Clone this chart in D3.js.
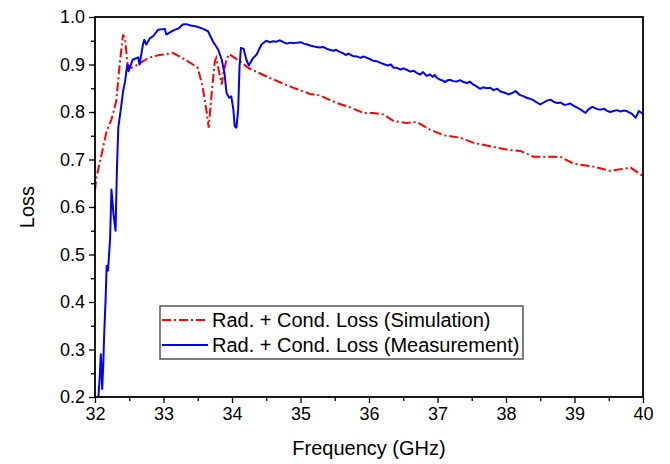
<!DOCTYPE html>
<html>
<head>
<meta charset="utf-8">
<script src="https://cdn.jsdelivr.net/npm/d3@7"></script>
<style>
  body { margin: 0; background: #fff; }
  svg { display: block; font-family: "Liberation Sans", Arial, sans-serif; }
</style>
</head>
<body>
<svg id="chart" width="670" height="464"></svg>
<script>
// simulation curve (dash-dot red)
const simFreq = [32.00, 32.02, 32.095, 32.17, 32.24, 32.31, 32.36, 32.41, 32.44, 32.475, 32.53, 32.63, 32.78, 32.94,
  33.14, 33.26, 33.43, 33.50, 33.57, 33.63, 33.66, 33.685, 33.71, 33.75, 33.77, 33.81, 33.85, 33.88, 33.92, 33.96,
  34.11, 34.26, 34.55, 34.84, 35.14, 35.28, 35.53, 35.72, 35.92, 36.06, 36.21, 36.36, 36.55, 36.70, 36.89, 37.09,
  37.33, 37.53, 37.77, 38.01, 38.21, 38.40, 38.65, 38.79, 38.99, 39.28, 39.52, 39.82, 40.00];
const simLoss = [0.635, 0.662, 0.71, 0.76, 0.784, 0.823, 0.90, 0.963, 0.952, 0.90, 0.893, 0.90, 0.914, 0.92,
  0.924, 0.915, 0.90, 0.893, 0.854, 0.80, 0.767, 0.809, 0.851, 0.907, 0.914, 0.886, 0.858, 0.886, 0.91, 0.922,
  0.907, 0.891, 0.872, 0.854, 0.838, 0.835, 0.819, 0.81, 0.798, 0.798, 0.795, 0.781, 0.777, 0.779, 0.763, 0.751,
  0.746, 0.735, 0.728, 0.721, 0.718, 0.706, 0.706, 0.706, 0.691, 0.685, 0.676, 0.683, 0.665];

// measurement curve (solid blue)
const measFreq = [32.05, 32.07, 32.085, 32.105, 32.12, 32.135, 32.155, 32.17, 32.19, 32.22, 32.24, 32.27, 32.30, 32.32,
  32.34, 32.38, 32.41, 32.44, 32.46, 32.475, 32.49, 32.55, 32.63, 32.65, 32.70, 32.72, 32.75, 32.80, 32.85, 32.92,
  33.02, 33.04, 33.10, 33.16, 33.22, 33.28, 33.33, 33.40, 33.48, 33.58, 33.65, 33.72, 33.80, 33.85, 33.89, 33.92,
  33.96, 33.99, 34.02, 34.04, 34.065, 34.09, 34.11, 34.13, 34.17, 34.21, 34.245, 34.31, 34.36, 34.43, 34.50,
  34.55, 34.60, 34.65, 34.70, 34.75, 34.80, 34.85, 34.90, 34.95, 35.00, 35.05, 35.10, 35.14, 35.20, 35.28, 35.33,
  35.40, 35.48, 35.52, 35.58, 35.62, 35.66, 35.70, 35.76, 35.82, 35.88, 35.92, 35.97, 36.02, 36.06, 36.11, 36.16,
  36.23, 36.28, 36.32, 36.36, 36.41, 36.46, 36.50, 36.55, 36.60, 36.65, 36.70, 36.75, 36.79, 36.84, 36.89, 36.93,
  36.96, 36.99, 37.04, 37.08, 37.11, 37.15, 37.18, 37.23, 37.28, 37.33, 37.38, 37.43, 37.47, 37.52, 37.57, 37.62,
  37.67, 37.72, 37.77, 37.82, 37.87, 37.92, 37.97, 38.04, 38.09, 38.14, 38.20, 38.26, 38.30, 38.35, 38.40, 38.45,
  38.50, 38.55, 38.60, 38.65, 38.70, 38.75, 38.80, 38.85, 38.89, 38.94, 38.99, 39.04, 39.08, 39.12, 39.16, 39.20,
  39.26, 39.30, 39.34, 39.38, 39.43, 39.47, 39.52, 39.57, 39.62, 39.67, 39.72, 39.76, 39.80, 39.84, 39.89, 39.92,
  39.94, 39.97, 40.00];
const measLoss = [0.20, 0.245, 0.29, 0.217, 0.266, 0.336, 0.406, 0.476, 0.466, 0.532, 0.637, 0.585, 0.55, 0.68,
  0.767, 0.809, 0.844, 0.865, 0.889, 0.90, 0.886, 0.91, 0.915, 0.90, 0.942, 0.952, 0.942, 0.955, 0.96, 0.973,
  0.975, 0.963, 0.968, 0.973, 0.976, 0.984, 0.985, 0.982, 0.980, 0.975, 0.97, 0.949, 0.931, 0.91, 0.882, 0.84,
  0.83, 0.833, 0.805, 0.77, 0.767, 0.805, 0.896, 0.935, 0.933, 0.91, 0.898, 0.914, 0.921, 0.942, 0.95,
  0.947, 0.949, 0.948, 0.951, 0.947, 0.944, 0.946, 0.945, 0.946, 0.947, 0.944, 0.942, 0.94, 0.938, 0.936, 0.937,
  0.932, 0.929, 0.931, 0.926, 0.924, 0.92, 0.923, 0.918, 0.917, 0.914, 0.917, 0.914, 0.911, 0.908, 0.907, 0.904,
  0.90, 0.898, 0.90, 0.893, 0.893, 0.889, 0.892, 0.889, 0.885, 0.887, 0.882, 0.879, 0.884, 0.876, 0.879, 0.874,
  0.878, 0.872, 0.868, 0.866, 0.863, 0.867, 0.868, 0.865, 0.864, 0.867, 0.863, 0.861, 0.864, 0.858, 0.854, 0.849,
  0.852, 0.85, 0.851, 0.846, 0.849, 0.843, 0.841, 0.837, 0.84, 0.844, 0.836, 0.833, 0.83, 0.828, 0.825, 0.82,
  0.816, 0.82, 0.824, 0.826, 0.821, 0.819, 0.82, 0.815, 0.816, 0.818, 0.813, 0.809, 0.806, 0.802, 0.798, 0.805,
  0.811, 0.808, 0.806, 0.805, 0.807, 0.803, 0.80, 0.802, 0.804, 0.801, 0.803, 0.802, 0.799, 0.796, 0.788, 0.796,
  0.802, 0.799, 0.796];

const xTicks = [32, 33, 34, 35, 36, 37, 38, 39, 40];
const yTicks = [0.2, 0.3, 0.4, 0.5, 0.6, 0.7, 0.8, 0.9, 1.0];
const legendLabels = ["Rad. + Cond. Loss (Simulation)", "Rad. + Cond. Loss (Measurement)"];

const width = 670;
const height = 464;
const margin = { top: 17, right: 27, bottom: 67, left: 95 };

const svg = d3.select("#chart");

const x = d3.scaleLinear()
    .domain([32, 40])
    .range([margin.left, width - margin.right]);

const y = d3.scaleLinear()
    .domain([0.2, 1.0])
    .range([height - margin.bottom, margin.top]);

svg.append("defs").append("clipPath").attr("id", "plot")
    .append("rect")
    .attr("x", margin.left).attr("y", margin.top)
    .attr("width", width - margin.left - margin.right)
    .attr("height", height - margin.top - margin.bottom);

// minor ticks
const xMinor = d3.range(32.5, 40, 1);
const yMinor = d3.range(0.25, 1.0, 0.1);

svg.append("g")
    .attr("transform", `translate(0,${height - margin.bottom})`)
    .call(d3.axisBottom(x).tickValues(xMinor).tickSize(4).tickFormat(""))
    .call(g => g.select(".domain").remove())
    .selectAll("line").attr("stroke-width", 1.3);

svg.append("g")
    .attr("transform", `translate(${margin.left},0)`)
    .call(d3.axisLeft(y).tickValues(yMinor).tickSize(4).tickFormat(""))
    .call(g => g.select(".domain").remove())
    .selectAll("line").attr("stroke-width", 1.3);

// curves
const simLine = d3.line().x((d, i) => x(simFreq[i])).y(d => y(d));
const measLine = d3.line().x((d, i) => x(measFreq[i])).y(d => y(d));

svg.append("path")
    .attr("clip-path", "url(#plot)")
    .attr("d", simLine(simLoss))
    .attr("fill", "none")
    .attr("stroke", "#ff0000")
    .attr("stroke-width", 2)
    .attr("stroke-dasharray", "9,3,2,3");

svg.append("path")
    .attr("clip-path", "url(#plot)")
    .attr("d", measLine(measLoss))
    .attr("fill", "none")
    .attr("stroke", "#0000ff")
    .attr("stroke-width", 2)
    .attr("stroke-linejoin", "round");

// major axes
const xAxis = svg.append("g")
    .attr("transform", `translate(0,${height - margin.bottom})`)
    .call(d3.axisBottom(x).tickValues(xTicks).tickSize(6).tickPadding(4).tickFormat(d3.format("d")));

const yAxis = svg.append("g")
    .attr("transform", `translate(${margin.left},0)`)
    .call(d3.axisLeft(y).tickValues(yTicks).tickSize(6).tickPadding(4).tickFormat(d3.format(".1f")));

[xAxis, yAxis].forEach(g => {
    g.select(".domain").remove();
    g.selectAll("line").attr("stroke-width", 1.3);
    g.selectAll("text")
        .attr("font-family", "'Liberation Sans', Arial, sans-serif")
        .attr("font-size", "18px")
        .attr("fill", "#000");
});

// frame
svg.append("rect")
    .attr("x", margin.left)
    .attr("y", margin.top)
    .attr("width", width - margin.left - margin.right)
    .attr("height", height - margin.top - margin.bottom)
    .attr("fill", "none")
    .attr("stroke", "#000")
    .attr("stroke-width", 1.8);

// axis titles
svg.append("text")
    .attr("x", (margin.left + width - margin.right) / 2)
    .attr("y", 455)
    .attr("text-anchor", "middle")
    .attr("font-size", "20px")
    .text("Frequency (GHz)");

svg.append("text")
    .attr("transform", "rotate(-90)")
    .attr("x", -(margin.top + height - margin.bottom) / 2)
    .attr("y", 34)
    .attr("text-anchor", "middle")
    .attr("font-size", "20px")
    .text("Loss");

// legend
const legend = svg.append("g");
legend.append("rect")
    .attr("x", 160).attr("y", 306)
    .attr("width", 363).attr("height", 53)
    .attr("fill", "#fff")
    .attr("stroke", "#555")
    .attr("stroke-width", 1.5);

const legendStyles = [
    { color: "#ff0000", dash: "9,3,2,3" },
    { color: "#0000ff", dash: null }
];

legendLabels.forEach((label, i) => {
    const ly = 320 + i * 25;
    legend.append("line")
        .attr("x1", 162).attr("x2", 208)
        .attr("y1", ly).attr("y2", ly)
        .attr("stroke", legendStyles[i].color)
        .attr("stroke-width", 2)
        .attr("stroke-dasharray", legendStyles[i].dash);
    legend.append("text")
        .attr("x", 212)
        .attr("y", ly + 7)
        .attr("font-size", "20px")
        .text(label);
});
</script>
</body>
</html>
